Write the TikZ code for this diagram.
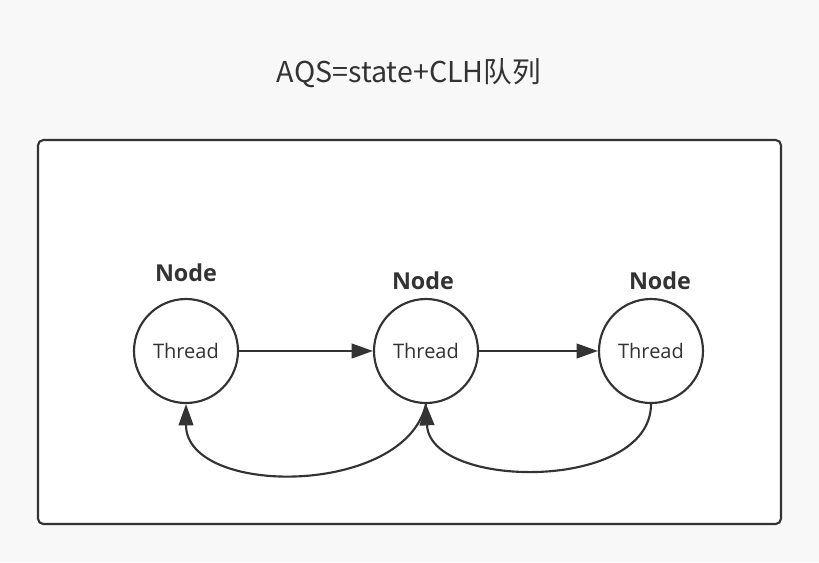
\documentclass[tikz,border=0pt]{standalone}
\usepackage{fontspec}
\setmainfont{Open Sans}
\newfontfamily\cjkfont{Noto Sans CJK SC}
\usepackage{xcolor}
\usetikzlibrary{arrows.meta,positioning}
\definecolor{inkgray}{HTML}{333333}
\definecolor{pagegray}{HTML}{F8F8F8}

\begin{document}
\begin{tikzpicture}[
    x=0.75pt, y=-0.75pt,
    thread/.style={draw=inkgray, circle, line width=1.6pt, minimum size=78pt, inner sep=0pt, fill=white, font=\fontsize{15}{17}\selectfont, text=inkgray},
    nodelabel/.style={font=\bfseries\fontsize{17.5}{20}\selectfont, text=inkgray},
    arr/.style={-{Triangle[length=16pt, width=11pt]}, line width=1.6pt, draw=inkgray},
]
    \fill[pagegray] (0,0) rectangle (819,562);
    \useasboundingbox (0,0) rectangle (819,562);

    \node[font=\cjkfont\fontsize{21.5}{24}\selectfont, text=inkgray] (title) at (409,73) {AQS=state+CLH队列};
    \draw[inkgray, line width=1.6pt, rounded corners=4pt, fill=white] (38,140) rectangle (781,524);

    \node[thread] (t1) at (186,351) {Thread};
    \node[thread] (t2) at (426,351) {Thread};
    \node[thread] (t3) at (651,351) {Thread};

    \node[nodelabel] (n1) at (186,273) {Node};
    \node[nodelabel] (n2) at (423,281) {Node};
    \node[nodelabel] (n3) at (660,281) {Node};

    \draw[arr] (t1) -- (t2);
    \draw[arr] (t2) -- (t3);
    \draw[arr] (t2.south) .. controls (405,497) and (186,497) .. (t1.south);
    \draw[arr] (t3.south) .. controls (651,492) and (430,490) .. (t2.south);
\end{tikzpicture}
\end{document}
